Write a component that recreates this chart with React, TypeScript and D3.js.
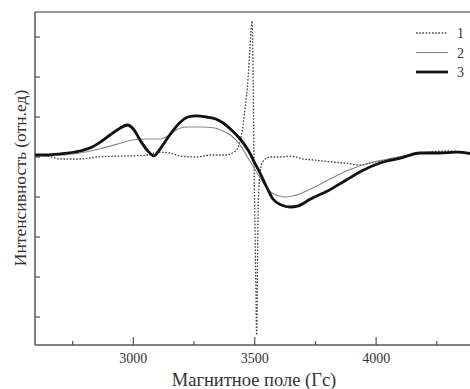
import { useRef, useEffect } from "react";
import * as d3 from "d3";

// Magnetic field (Gs) / intensity (arb. units)
const field1 = [2595, 2650, 2700, 2780, 2850, 2930, 3000, 3060, 3100, 3150, 3200, 3260, 3320, 3380, 3420, 3440, 3452, 3460, 3473, 3480, 3489, 3498, 3504, 3508, 3514, 3522, 3535, 3563, 3600, 3650, 3700, 3750, 3810, 3870, 3933, 4000, 4100, 4180, 4300, 4395];
const int1 = [0.05, 0.02, -0.05, -0.05, 0.0, 0.02, 0.03, 0.05, 0.12, 0.1, 0.02, 0.0, 0.05, 0.05, 0.15, 0.4, 0.8, 1.2, 2.0, 2.7, 3.4, -0.5, -3.0, -4.45, -1.3, -0.4, -0.1, 0.0, 0.0, 0.02, -0.05, -0.08, -0.12, -0.15, -0.2, -0.12, 0.0, 0.1, 0.15, 0.1];

const field2 = [2595, 2700, 2780, 2860, 2950, 2990, 3050, 3110, 3150, 3190, 3225, 3280, 3330, 3370, 3400, 3440, 3475, 3500, 3530, 3560, 3590, 3625, 3660, 3730, 3810, 3890, 3970, 4050, 4130, 4210, 4300, 4395];
const int2 = [0.05, 0.05, 0.1, 0.2, 0.35, 0.42, 0.45, 0.45, 0.55, 0.72, 0.75, 0.75, 0.73, 0.65, 0.55, 0.3, -0.05, -0.3, -0.6, -0.85, -0.95, -1.0, -0.97, -0.8, -0.55, -0.32, -0.15, -0.05, 0.05, 0.1, 0.12, 0.1];

const field3 = [2595, 2650, 2700, 2780, 2830, 2870, 2904, 2940, 2975, 3000, 3030, 3060, 3085, 3110, 3150, 3190, 3225, 3260, 3300, 3340, 3370, 3400, 3440, 3475, 3500, 3522, 3545, 3575, 3610, 3645, 3680, 3730, 3800, 3870, 3940, 4016, 4100, 4180, 4260, 4330, 4395];
const int3 = [0.05, 0.05, 0.08, 0.15, 0.25, 0.4, 0.55, 0.7, 0.8, 0.7, 0.4, 0.15, 0.03, 0.2, 0.55, 0.85, 1.0, 1.03, 1.0, 0.95, 0.85, 0.7, 0.45, 0.15, -0.15, -0.4, -0.7, -1.05, -1.2, -1.25, -1.22, -1.05, -0.85, -0.6, -0.35, -0.15, -0.03, 0.1, 0.1, 0.12, 0.08];

const xMajor = [3000, 3500, 4000];
const xMinor = [2750, 3250, 3750, 4250];
const yTicks = [-4, -3, -2, -1, 0, 1, 2, 3];
const seriesNames = ["1", "2", "3"];

const W = 470;
const H = 389;
const FONT = "'Liberation Serif', 'Times New Roman', serif";

export default function App() {
  const svgRef = useRef<SVGSVGElement>(null);

  useEffect(() => {
    if (!svgRef.current) return;
    const svg = d3.select(svgRef.current);
    svg.selectAll("*").remove();

    const left = 35, top = 12, bottom = 345;
    const x = d3.scaleLinear().domain([2595, 4395]).range([left, left + 1800 * 0.2428]);
    const y = d3.scaleLinear().domain([0, 1]).range([157, 117]);

    const axisColor = "#555";

    // frame: top, left, bottom
    svg.append("line").attr("x1", left).attr("x2", W).attr("y1", top).attr("y2", top)
      .attr("stroke", "#777").attr("stroke-width", 1.5);
    svg.append("line").attr("x1", left).attr("x2", left).attr("y1", top).attr("y2", bottom)
      .attr("stroke", axisColor).attr("stroke-width", 1.5);
    svg.append("line").attr("x1", left).attr("x2", W).attr("y1", bottom).attr("y2", bottom)
      .attr("stroke", axisColor).attr("stroke-width", 1.5);

    // y ticks (inward, no labels)
    svg.selectAll(".yt").data(yTicks).enter().append("line")
      .attr("x1", left).attr("x2", left + 5).attr("y1", d => y(d)).attr("y2", d => y(d))
      .attr("stroke", axisColor).attr("stroke-width", 1.2);

    // x ticks
    svg.selectAll(".xM").data(xMajor).enter().append("line")
      .attr("x1", d => x(d)).attr("x2", d => x(d)).attr("y1", bottom).attr("y2", bottom - 8)
      .attr("stroke", axisColor).attr("stroke-width", 1.2);
    svg.selectAll(".xm").data(xMinor).enter().append("line")
      .attr("x1", d => x(d)).attr("x2", d => x(d)).attr("y1", bottom).attr("y2", bottom - 4)
      .attr("stroke", axisColor).attr("stroke-width", 1.2);
    svg.selectAll(".xl").data(xMajor).enter().append("text")
      .attr("x", d => x(d)).attr("y", 363).attr("text-anchor", "middle")
      .attr("font-family", FONT).attr("font-size", 14).attr("fill", "#333")
      .text(d => String(d));

    // axis titles
    svg.append("text").attr("x", 254).attr("y", 386).attr("text-anchor", "middle")
      .attr("font-family", FONT).attr("font-size", 18.5).attr("fill", "#333")
      .text("Магнитное поле (Гс)");
    svg.append("text").attr("transform", "translate(26,178) rotate(-90)").attr("text-anchor", "middle")
      .attr("font-family", FONT).attr("font-size", 17.5).attr("fill", "#333")
      .text("Интенсивность (отн.ед)");

    const g = svg.append("g");
    const line = d3.line<[number, number]>().x(d => x(d[0])).y(d => y(d[1])).curve(d3.curveMonotoneX);
    const pts = (xs: number[], ys: number[]) => xs.map((v, i) => [v, ys[i]] as [number, number]);

    g.append("path").datum(pts(field1, int1)).attr("d", line).attr("fill", "none")
      .attr("stroke", "#444").attr("stroke-width", 1.3).attr("stroke-dasharray", "1.6,1.6");
    g.append("path").datum(pts(field2, int2)).attr("d", line).attr("fill", "none")
      .attr("stroke", "#888").attr("stroke-width", 1.1);
    g.append("path").datum(pts(field3, int3)).attr("d", line).attr("fill", "none")
      .attr("stroke", "#111").attr("stroke-width", 2.8);

    // legend
    const styles = [
      { stroke: "#444", w: 1.3, dash: "1.6,1.6" },
      { stroke: "#888", w: 1.1, dash: "" },
      { stroke: "#111", w: 2.8, dash: "" },
    ];
    seriesNames.forEach((name, i) => {
      const ly = 33 + i * 19.5;
      svg.append("line").attr("x1", 416).attr("x2", 448).attr("y1", ly).attr("y2", ly)
        .attr("stroke", styles[i].stroke).attr("stroke-width", styles[i].w)
        .attr("stroke-dasharray", styles[i].dash || null);
      svg.append("text").attr("x", 457).attr("y", ly + 5).attr("font-family", FONT)
        .attr("font-size", 14).attr("fill", "#333").text(name);
    });
  }, []);

  return (
    <svg ref={svgRef} width={W} height={H}
      style={{ position: "fixed", left: 0, top: 0, background: "#fff", display: "block" }} />
  );
}
